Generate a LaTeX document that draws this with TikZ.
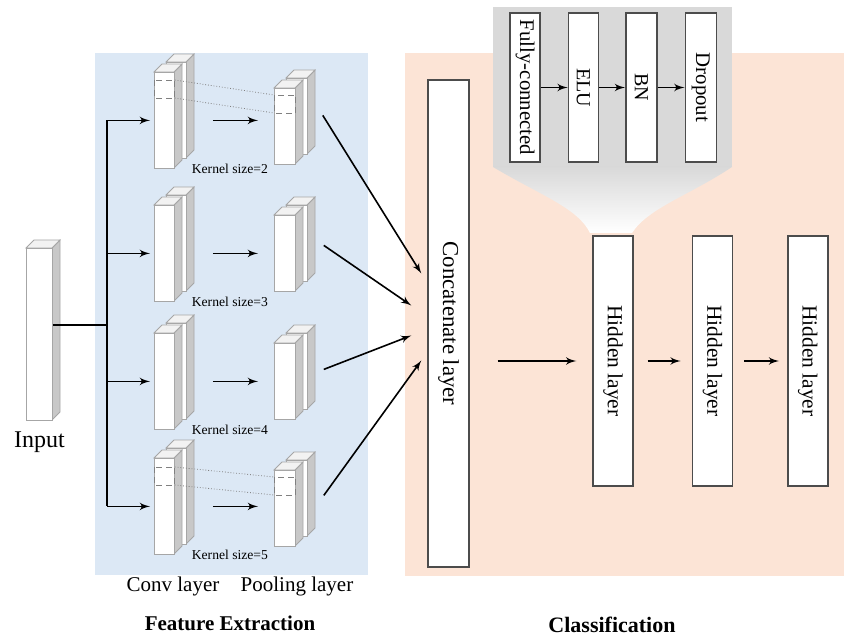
\documentclass[tikz,border=0pt]{standalone}
\usepackage{fontspec}
\setmainfont{Liberation Serif}
\usetikzlibrary{arrows,positioning,calc}

\definecolor{featblue}{HTML}{DCE8F5}
\definecolor{clspeach}{HTML}{FCE4D6}
\definecolor{zoomgray}{HTML}{D9D9D9}
\definecolor{slabgray}{HTML}{C8C8C8}
\definecolor{slabtopc}{HTML}{F2F2F2}

\tikzset{
  slab/.style={draw=gray!70, fill=white, line width=0.4pt, inner sep=0pt},
  slabside/.style={fill=slabgray, draw=gray!70, line width=0.4pt},
  slabtop/.style={fill=slabtopc, draw=gray!70, line width=0.4pt},
  layer/.style={draw=black!70, fill=white, line width=0.7pt, inner sep=0pt},
  flow/.style={->, line width=0.8pt},
  window/.style={gray, densely dashed, line width=0.4pt},
  proj/.style={gray, densely dotted, line width=0.4pt},
}

% 3d slab: name, left, top, width, height (picture units)
\newcommand{\slab}[5]{%
  \path[slabside] (#2+#4,#3) -- ++(8,-8) -- ++(0,#5) -- ++(-8,8) -- cycle;
  \path[slabtop] (#2,#3) -- ++(8,-8) -- ++(#4,0) -- ++(-8,8) -- cycle;
  \node[slab, anchor=north west, minimum width=#4*0.5pt, minimum height=#5*0.5pt] (#1) at (#2,#3) {};
}

\begin{document}
\begin{tikzpicture}[x=0.5pt,y=-0.5pt,>=latex']
	\useasboundingbox (0,0) rectangle (844,640);
	% backgrounds
	\fill[featblue] (95,53) rectangle (368,575);
	\fill[clspeach] (405,53) rectangle (844,576);
	\fill[zoomgray] (493,7) rectangle (732,167);
	\shade[top color=zoomgray, bottom color=white] (493,167) .. controls (540,195) and (578,208) .. (590,233) -- (632,233) .. controls (648,208) and (690,195) .. (732,167) -- cycle;

	% input
	\slab{input}{26}{248}{26}{172}
	\node (lblinput) [below=2pt of input, font=\fontsize{12}{14}\selectfont] {Input};

	% conv and pooling layers
	\slab{cb1}{166}{62}{20}{96}
	\slab{c1}{154}{72}{20}{96}
	\slab{cb2}{166}{195}{20}{96}
	\slab{c2}{154}{205}{20}{96}
	\slab{cb3}{166}{323}{20}{96}
	\slab{c3}{154}{333}{20}{96}
	\slab{cb4}{166}{448}{20}{96}
	\slab{c4}{154}{458}{20}{96}
	\slab{pb1}{286}{78}{21}{76}
	\slab{p1}{274}{88}{21}{76}
	\slab{pb2}{286}{205}{21}{76}
	\slab{p2}{274}{215}{21}{76}
	\slab{pb3}{286}{333}{21}{76}
	\slab{p3}{274}{343}{21}{76}
	\slab{pb4}{286}{460}{21}{76}
	\slab{p4}{274}{470}{21}{76}

	\tikzset{every node/.append style={font=\fontsize{6.8}{8}\selectfont}}
	\node (k1) [anchor=west] at ([xshift=5pt]c1.south east) {Kernel size=2};
	\node (k2) [anchor=west] at ([xshift=5pt]c2.south east) {Kernel size=3};
	\node (k3) [anchor=west] at ([xshift=5pt]c3.south east) {Kernel size=4};
	\node (k4) [anchor=west] at ([xshift=5pt]c4.south east) {Kernel size=5};
	\tikzset{every node/.style={}}

	% kernel windows
	\draw[window] ($(c1.north west)+(0,8)$) rectangle ($(c1.north east)+(0,26)$);
	\draw[window] ($(p1.north west)+(0,7)$) rectangle ($(p1.north east)+(0,25)$);
	\draw[proj] ($(c1.north east)+(0,8)$) -- ($(p1.north west)+(0,7)$);
	\draw[proj] ($(c1.north east)+(0,26)$) -- ($(p1.north west)+(0,25)$);
	\draw[window] ($(c4.north west)+(0,9)$) rectangle ($(c4.north east)+(0,27)$);
	\draw[window] ($(p4.north west)+(0,7)$) rectangle ($(p4.north east)+(0,25)$);
	\draw[proj] ($(c4.north east)+(0,9)$) -- ($(p4.north west)+(0,7)$);
	\draw[proj] ($(c4.north east)+(0,27)$) -- ($(p4.north west)+(0,25)$);

	% input to conv
	\coordinate (split) at (107,325);
	\draw[line width=1pt] (split -| input.east) -- (split);
	\draw[line width=1pt] (split |- c1.west) -- (split |- c4.west);
	\draw[flow, shorten >=2pt] (split |- c1.west) -- (c1.west);
	\draw[flow, shorten >=2pt] (split |- c2.west) -- (c2.west);
	\draw[flow, shorten >=2pt] (split |- c3.west) -- (c3.west);
	\draw[flow, shorten >=2pt] (split |- c4.west) -- (c4.west);

	% conv to pooling
	\draw[flow] ($(c1.east)+(38,0)$) -- ($(c1.east -| p1.west)+(-16,0)$);
	\draw[flow] ($(c2.east)+(38,0)$) -- ($(c2.east -| p2.west)+(-16,0)$);
	\draw[flow] ($(c3.east)+(38,0)$) -- ($(c3.east -| p3.west)+(-16,0)$);
	\draw[flow] ($(c4.east)+(38,0)$) -- ($(c4.east -| p4.west)+(-16,0)$);

	% classification
	\node[layer, minimum width=20.5pt, minimum height=243.5pt, font=\fontsize{11.4}{13}\selectfont] (concat) at (448.5,323.5) {\rotatebox{-90}{Concatenate layer}};
	\node[layer, minimum width=20pt, minimum height=125pt, font=\fontsize{10.7}{13}\selectfont] (hid1) at (613,361) {\rotatebox{-90}{Hidden layer}};
	\node[layer, minimum width=20pt, minimum height=125pt, font=\fontsize{10.7}{13}\selectfont] (hid2) [right=29pt of hid1] {\rotatebox{-90}{Hidden layer}};
	\node[layer, minimum width=20pt, minimum height=125pt, font=\fontsize{10.7}{13}\selectfont] (hid3) [right=27pt of hid2] {\rotatebox{-90}{Hidden layer}};

	% zoomed hidden layer
	\node[layer, minimum width=15pt, minimum height=74.5pt, font=\fontsize{10.4}{12}\selectfont] (fc) at (525,87.5) {\rotatebox{-90}{Fully-connected}};
	\node[layer, minimum width=15pt, minimum height=74.5pt, font=\fontsize{10}{12}\selectfont] (elu) [right=13.5pt of fc] {\rotatebox{-90}{ELU}};
	\node[layer, minimum width=15.5pt, minimum height=74.5pt, font=\fontsize{10}{12}\selectfont] (bn) [right=13pt of elu] {\rotatebox{-90}{BN}};
	\node[layer, minimum width=15.5pt, minimum height=74.5pt, font=\fontsize{10.4}{12}\selectfont] (drop) [right=13.5pt of bn] {\rotatebox{-90}{Dropout}};
	\draw[flow] (fc) -- (elu);
	\draw[flow] (elu) -- (bn);
	\draw[flow] (bn) -- (drop);

	% pooling to concatenate
	\draw[flow] ($(p1.east)+(27,-11)$) -- ($(concat.west)+(-6,-50)$);
	\draw[flow] ($(p2.east)+(28,-8)$) -- ($(concat.west)+(-16,-18)$);
	\draw[flow] ($(p3.east)+(28,-12)$) -- ($(concat.west)+(-16,12)$);
	\draw[flow] ($(p4.east)+(28,-13)$) -- ($(concat.west)+(-6,37)$);

	\draw[flow, shorten <=14pt, shorten >=8pt] (concat.east |- hid1.west) -- (hid1.west);
	\draw[flow, shorten <=7pt, shorten >=5.5pt] (hid1) -- (hid2);
	\draw[flow, shorten <=5.5pt, shorten >=4pt] (hid2) -- (hid3);

	% captions
	\node (lblconv) at (173,586) [font=\fontsize{10.5}{12}\selectfont] {Conv layer};
	\node (lblpool) at (297,586) [font=\fontsize{10.5}{12}\selectfont] {Pooling layer};
	\node (lblfeat) at (230,623) [font=\bfseries\fontsize{10.5}{12}\selectfont] {Feature Extraction};
	\node (lblcls) at (612,625) [font=\bfseries\fontsize{11}{13}\selectfont] {Classification};
\end{tikzpicture}
\end{document}
